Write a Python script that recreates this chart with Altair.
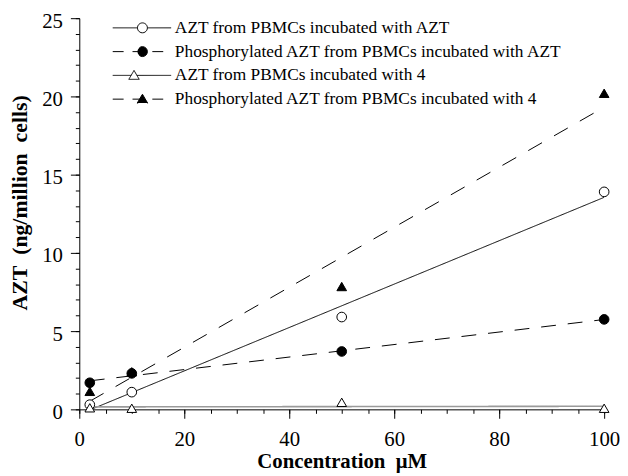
import altair as alt
import pandas as pd

# ---------------- data ----------------
conc = [2, 10, 50, 100]
series_names = [
    "AZT from PBMCs incubated with AZT",
    "Phosphorylated AZT from PBMCs incubated with AZT",
    "AZT from PBMCs incubated with 4",
    "Phosphorylated AZT from PBMCs incubated with 4",
]
azt_from_azt = [0.3, 1.1, 5.9, 13.9]
phos_from_azt = [1.7, 2.3, 3.7, 5.75]
azt_from_4 = [0.1, 0.07, 0.45, 0.07]
phos_from_4 = [1.15, 2.4, 7.85, 20.2]

x_major = [0, 20, 40, 60, 80, 100]
x_minor = list(range(0, 101, 5))
y_major = [0, 5, 10, 15, 20, 25]
y_minor = list(range(0, 26))

values = [azt_from_azt, phos_from_azt, azt_from_4, phos_from_4]
rows = []
for name, vals in zip(series_names, values):
    for c, v in zip(conc, vals):
        rows.append({"conc": c, "value": v, "series": name})
df = pd.DataFrame(rows)

SERIF = "Liberation Serif"

# ---------------- styles ----------------
line_color = ["black", "black", "#9a9a9a", "black"]
line_width = [1, 1, 1.6, 1]
line_dash = [[1, 0], [15, 12], [1, 0], [16, 14]]
pt_shape = ["circle", "circle", "triangle-up", "triangle-up"]
pt_fill = ["white", "black", "white", "black"]

# legend symbols (custom paths, unit = sqrt(symbolSize)/2 px)
leg_paths = [
    "M-1.4,0L3.6,0M5.6,0L10.4,0M5.6,0A1,1,0,1,1,3.6,0A1,1,0,1,1,5.6,0Z",
    "M-1.4,0L10.4,0M5.6,0A1,1,0,1,1,3.6,0A1,1,0,1,1,5.6,0Z",
    "M-1.4,0L2.32,0M3.48,0L10.4,0M2.9,-1L3.95,0.8L1.85,0.8Z",
    "M-1.4,0L10.4,0M4.6,-1L5.65,0.8L3.55,0.8Z",
]
leg_dash = [[1, 0], [11, 9], [1, 0], [11, 9]]
leg_stroke = ["black", "black", "black", "black"]

xscale = alt.Scale(domain=[0, 100], nice=False)
yscale = alt.Scale(domain=[0, 25], nice=False)

x_axis_main = alt.Axis(
    values=x_major, tickSize=9, labelPadding=28, labelBaseline="alphabetic",
    labelFont=SERIF, labelFontSize=21, labelColor="black",
    title="Concentration\u00a0 \u03bcM", titleFont=SERIF, titleFontSize=21,
    titleFontWeight="bold", titleColor="black", titleBaseline="alphabetic",
    titleY=59, grid=False, domainColor="black", tickColor="black",
    domainWidth=1, tickWidth=1, labelFlush=False,
)
y_axis_main = alt.Axis(
    values=y_major, tickSize=9, labelPadding=8, labelOffset=3,
    labelFont=SERIF, labelFontSize=21, labelColor="black",
    title="AZT\u00a0 (ng/million\u00a0 cells)", titleFont=SERIF, titleFontSize=22,
    titleFontWeight="bold", titleColor="black", titleAngle=270,
    titleBaseline="alphabetic", titleAlign="center", titleX=-53, titleY=186,
    grid=False, domainColor="black", tickColor="black", domainWidth=1,
    tickWidth=1, labelFlush=False,
)

base = alt.Chart(df)
layers = []
for i, name in enumerate(series_names):
    fit = (
        base.transform_filter(alt.datum.series == name)
        .transform_regression("conc", "value", method="linear", extent=[2, 100])
        .mark_line(color=line_color[i], strokeWidth=line_width[i],
                   strokeDash=line_dash[i], clip=True)
        .encode(x=alt.X("conc:Q", scale=xscale, axis=x_axis_main),
                y=alt.Y("value:Q", scale=yscale, axis=y_axis_main))
    )
    layers.append(fit)
for i, name in enumerate(series_names):
    pts = (
        base.transform_filter(alt.datum.series == name)
        .mark_point(shape=pt_shape[i], filled=True, fill=pt_fill[i],
                    stroke="black", strokeWidth=1, size=95, opacity=1)
        .encode(x=alt.X("conc:Q", scale=xscale, axis=x_axis_main),
                y=alt.Y("value:Q", scale=yscale, axis=y_axis_main))
    )
    layers.append(pts)

main = alt.layer(*layers)


def leg():
    return alt.Legend(
        title=None, labelFont=SERIF, labelFontSize=17.5, labelColor="black",
        labelLimit=500, labelOffset=47, rowPadding=5, symbolSize=100,
        symbolStrokeWidth=1, symbolOpacity=1, orient="none",
        legendX=32, legendY=1, padding=0,
    )


# legend + minor ticks layer (no visible data points)
legend_layer = (
    base.transform_filter("false")
    .mark_point(filled=True, strokeWidth=1, size=100)
    .encode(
        x=alt.X("conc:Q", scale=xscale,
                axis=alt.Axis(values=x_minor, tickSize=4, labels=False, domain=False,
                              title=None, grid=False, orient="bottom",
                              tickColor="black", tickWidth=1)),
        y=alt.Y("value:Q", scale=yscale,
                axis=alt.Axis(values=y_minor, tickSize=4, labels=False, domain=False,
                              title=None, grid=False, orient="left",
                              tickColor="black", tickWidth=1)),
        shape=alt.Shape("series:N", scale=alt.Scale(domain=series_names, range=leg_paths),
                        legend=leg()),
        fill=alt.Fill("series:N", scale=alt.Scale(domain=series_names, range=pt_fill),
                      legend=leg()),
        stroke=alt.Stroke("series:N", scale=alt.Scale(domain=series_names, range=leg_stroke),
                          legend=leg()),
        strokeDash=alt.StrokeDash("series:N", scale=alt.Scale(domain=series_names, range=leg_dash),
                                  legend=leg()),
    )
)

chart = (
    alt.layer(main, legend_layer)
    .resolve_axis(x="independent", y="independent")
    .properties(
        width=530, height=395,
        padding={"left": 72, "top": 8, "right": 16, "bottom": 64},
        autosize=alt.AutoSizeParams(type="none"),
    )
    .configure(font=SERIF, style={"guide-label": {"font": SERIF}})
    .configure_view(stroke=None)
    .configure_legend(labelFont=SERIF, labelFontSize=17.5, labelColor="black",
                      labelLimit=500)
)

chart.save("out.html", embed_options={"renderer": "svg", "actions": False})
